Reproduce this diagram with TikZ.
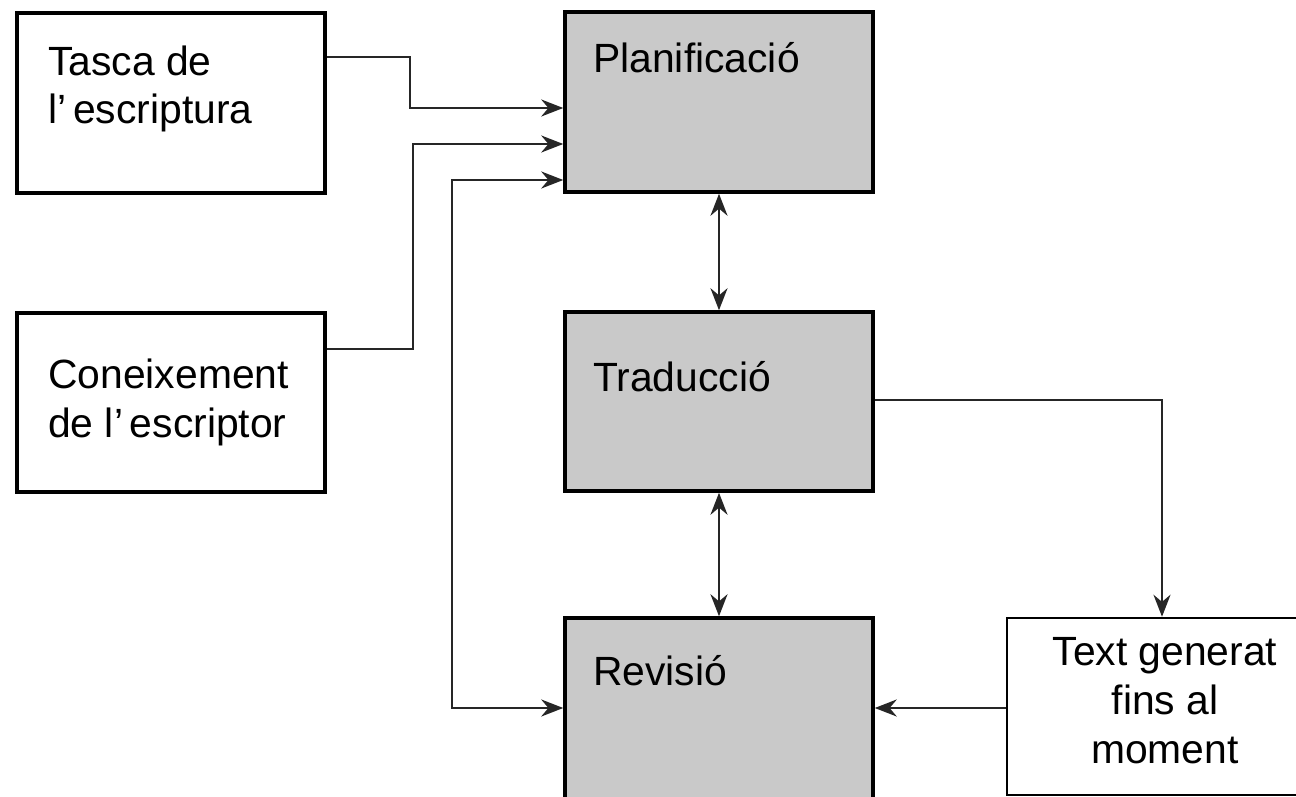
\documentclass[tikz,border=0pt]{standalone}
\usepackage{fontspec}
\setmainfont{Liberation Sans}
\usetikzlibrary{arrows.meta,positioning,calc}

\definecolor{boxgray}{HTML}{C9C9C9}
\newcommand{\boxfont}{\fontsize{41}{49}\selectfont}

\tikzset{
    stage/.style={draw=black, line width=3.5bp, fill=boxgray, minimum width=308bp, minimum height=180bp, inner sep=0pt},
    source/.style={draw=black, line width=3.5bp, fill=white, minimum width=308bp, minimum height=180bp, inner sep=0pt},
    txt/.style={font=\boxfont, inner sep=0pt, anchor=base west, align=left},
    conn/.style={line width=2.4bp, draw=black!85, -{Stealth[length=22bp,width=17bp]}},
    biconn/.style={conn, {Stealth[length=22bp,width=17bp]}-{Stealth[length=22bp,width=17bp]}}
}

\begin{document}
\begin{tikzpicture}[x=1bp, y=-1bp]
    \useasboundingbox[fill=white] (0,0) rectangle (1296,797);

    % inputs on the left (base = last line)
    \node[source] (task) at (171,103) {};
    \node[source, minimum height=179bp] (know) at (171,402.5) {};
    \node[txt] (taskT) at (48,124) {Tasca de\\l'\,escriptura};
    \node[txt] (knowT) at (48,437) {Coneixement\\de l'\,escriptor};

    % writing processes
    \node[stage] (plan) at (719,102) {};
    \node[stage, minimum height=179bp] (trad) at (719,401.5) {};
    \node[stage, minimum height=182bp] (rev) at (719,709) {};
    \node[txt] (planT) at (593,73) {Planificació};
    \node[txt] (tradT) at (593,391) {Traducció};
    \node[txt] (revT) at (593,685) {Revisió};

    % text produced so far
    \node[source, line width=2.5bp, minimum width=310bp, minimum height=177bp] (gen) at (1162,706.5) {};
    \node[font=\boxfont, align=center, inner sep=0pt, anchor=base] (genT) at (1165,763) {Text generat\\fins al\\moment};

    % connectors
    \draw[conn] (task.east |- 0,57) -| (410,108) -- (plan.west |- 0,108);
    \draw[conn] (know.east |- 0,349) -| (413,144) -- (plan.west |- 0,144);
    \draw[biconn] (plan.west |- 0,180) -| (452,708) -- (rev.west |- 0,708);
    \draw[biconn] (plan.south) -- (trad.north);
    \draw[biconn] (trad.south) -- (rev.north);
    \draw[conn] (trad.east |- 0,400) -| (gen.north);
    \draw[conn] (gen.west |- 0,708) -- (rev.east |- 0,708);
\end{tikzpicture}
\end{document}
